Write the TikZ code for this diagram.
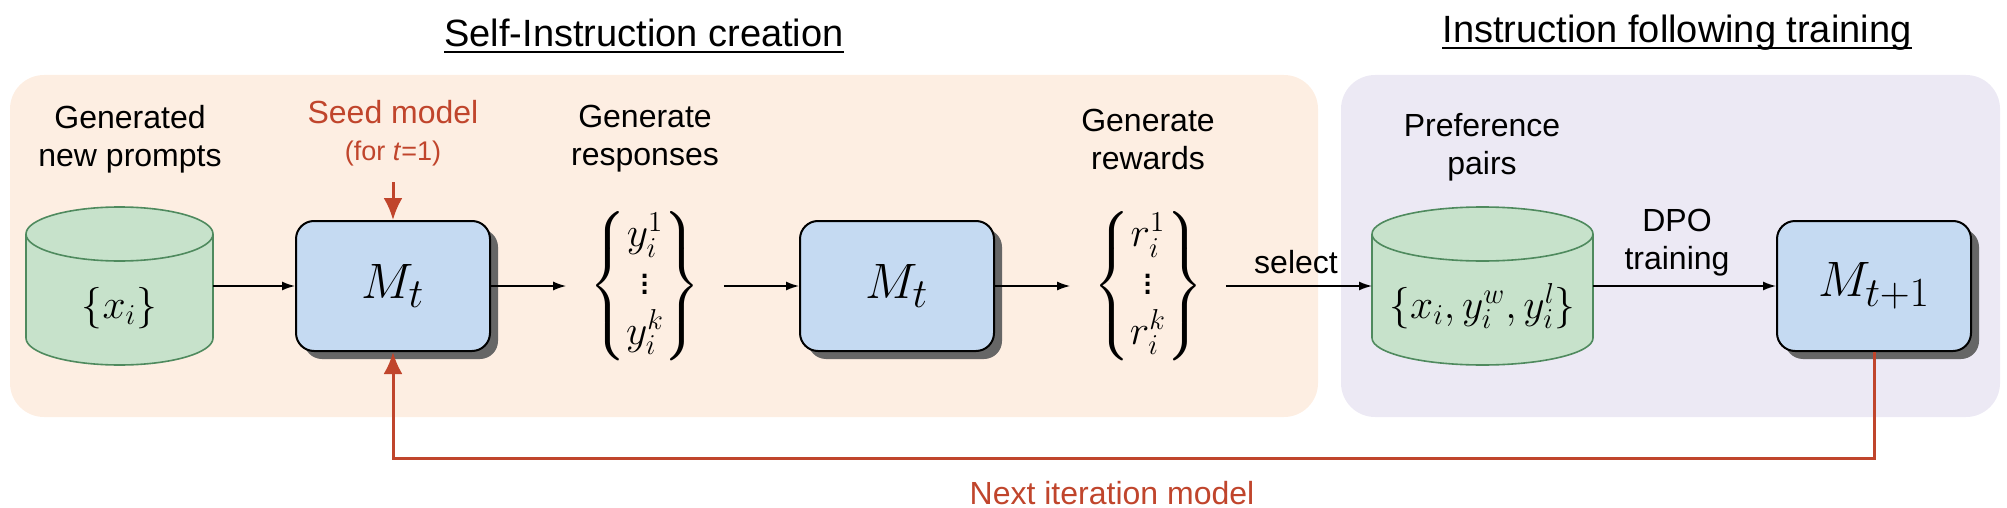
\documentclass[tikz,border=0pt]{standalone}
\usepackage{amsmath}
\usepackage[no-math]{fontspec}
\setmainfont{Liberation Sans}
\usetikzlibrary{arrows.meta,positioning,calc,shadows}
\definecolor{cPeach}{HTML}{FDEEE2}
\definecolor{cLav}  {HTML}{ECE9F4}
\definecolor{cData} {HTML}{C7E2CB}
\definecolor{cDataB}{HTML}{4F8A5E}
\definecolor{cModel}{HTML}{C5DAF2}
\definecolor{cLoop} {HTML}{C0452C}
\tikzset{
  panel/.style ={rounded corners=17pt},
  model/.style ={draw=black,fill=cModel,rounded corners=9pt,line width=1pt,
                 minimum width=97pt,minimum height=65pt,inner sep=0pt,
                 font=\fontsize{30}{36}\selectfont,
                 drop shadow={shadow xshift=4pt,shadow yshift=-4pt,
                              fill=black!60,opacity=1}},
  store/.style ={inner sep=0pt,outer sep=0pt},
  dbline/.style={draw=cDataB,fill=cData,line width=0.8pt},
  dtxt/.style  ={inner sep=0pt,font=\fontsize{20}{24}\selectfont},
  set/.style   ={inner sep=0pt,outer sep=11.5pt,font=\fontsize{20}{24}\selectfont},
  lbl/.style   ={align=center,font=\fontsize{16}{19}\selectfont},
  ttl/.style   ={inner sep=0pt,font=\fontsize{19}{23}\selectfont},
  uline/.style ={line width=1.1pt},
  red/.style   ={text=cLoop},
  sig/.style   ={-{Latex[length=6.5pt,width=4.5pt]},line width=0.75pt},
  loop/.style  ={-{Latex[length=11pt,width=9.5pt]},draw=cLoop,line width=1.5pt},
}
% cylinder drawn over the box of a named node
\newcommand{\dbshape}[1]{%
  \draw[dbline] let \p1=(#1.north west), \p2=(#1.south east),
      \n1={(\x2-\x1)/2} in
    (\x1,\y1-13.5pt) -- (\x1,\y2+13.5pt)
    arc[start angle=180,end angle=360,x radius=\n1*1pt,y radius=13.5pt]
    -- (\x2,\y1-13.5pt)
    arc[start angle=0,end angle=180,x radius=\n1*1pt,y radius=13.5pt] -- cycle
    (\x1,\y1-13.5pt)
    arc[start angle=180,end angle=360,x radius=\n1*1pt,y radius=13.5pt];}

\begin{document}
\begin{tikzpicture}[x=0.5pt,y=-0.5pt]
\useasboundingbox (0,0) rectangle (2007,508);

% ---- panels -------------------------------------------------------------
\fill[cPeach,panel] (10,75) rectangle (1318,417);
\fill[cLav,panel]   (1341,75) rectangle (2000,417);
\node[ttl] (tSelf) at (644,33) {Self-Instruction creation};
\node[ttl] (tTrain) at (1677,33) {Instruction following training};
\foreach \t in {tSelf,tTrain}
  {\draw[uline] ([yshift=-2.6pt]\t.base west) -- ([yshift=-2.6pt]\t.base east);}

% ---- main row -----------------------------------------------------------
\node[store,minimum width=93.5pt,minimum height=79pt] (prompts) at (119.5,286) {};
\dbshape{prompts}
\node[dtxt] (promptsTxt) at (119.5,308) {$\{x_i\}$};
\node[model] (m1) at (393,286) {$M_t$};
\node[set] (resp) at (645,286)
  {$\left\{\begin{matrix}y_i^1\\ \vdots\\ y_i^k\end{matrix}\right\}$};
\node[model] (m2) at (897,286) {$M_t$};
\node[set] (rew) at (1148,286)
  {$\left\{\begin{matrix}r_i^1\\ \vdots\\ r_i^k\end{matrix}\right\}$};
\node[store,minimum width=110.5pt,minimum height=79pt] (pairs) at (1482.5,286) {};
\dbshape{pairs}
\node[dtxt,font=\fontsize{21.5}{26}\selectfont] (pairsTxt) at (1482.5,306)
  {$\{x_i,y_i^w,y_i^l\}$};
\node[model] (m3) at (1874,286) {$M_{t+1}$};

% ---- labels -------------------------------------------------------------
\node[lbl] (lPrompts) at (130,139) {Generated\\new prompts};
\node[lbl] (lResp) at (645,139) {Generate\\responses};
\node[lbl] (lRew) at (1148,139) {Generate\\rewards};
\node[lbl] (lPairs) at (1482,147) {Preference\\pairs};
\node[lbl] (lDpo) at (1677,243) {DPO\\training};
\node[lbl] (lSel) at (1296,262) {select};
\node[lbl,red] (lSeed) at (393,112) {Seed model};
\node[red,font=\fontsize{13.5}{16}\selectfont] (lFor) at (393,154) {(for \textit{t}=1)};
\node[lbl,red] (lNext) at (1112,493) {Next iteration model};

% ---- connectors ---------------------------------------------------------
\foreach \a/\b in {prompts/m1,m1/resp,resp/m2,m2/rew,rew/pairs,pairs/m3}
  {\draw[sig] (\a.east) -- (\b.west);}
\coordinate (seedIn) at (393,182);
\draw[loop] (seedIn) -- (m1.north);
\draw[loop] (m3.south) -- ++(0,106) -| (m1.south);
\end{tikzpicture}
\end{document}
